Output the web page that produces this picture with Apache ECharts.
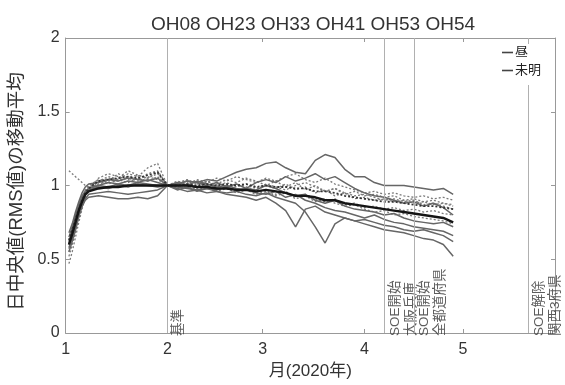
<!DOCTYPE html>
<html>
<head>
<meta charset="utf-8">
<script src="https://cdn.jsdelivr.net/npm/echarts@6/dist/echarts.min.js"></script>
<style>
  html, body { margin: 0; padding: 0; background: #fff; }
  #chart { width: 565px; height: 385px; }
</style>
</head>
<body>
<div id="chart"></div>
<script>
// Days counted from 1 January 2020 (day 0 = Jan 1)
const days = [1,2,3,4,5,6,7,10,13,16,19,22,25,28,31,34,37,40,43,46,49,52,55,58,61,64,67,70,73,76,79,82,85,88,91,94,97,100,103,106,109,112,115,118];

// Month ticks on the x axis
const monthTickDays = [0, 31, 60, 91, 121];
const monthLabels = ['1', '2', '3', '4', '5'];

// Daytime (昼) moving averages per station
const dayOH08 = [0.62,0.70,0.78,0.86,0.92,0.96,0.98,1.00,1.02,1.01,1.03,1.02,1.04,1.02,1.00,1.01,1.03,1.02,1.04,1.03,1.06,1.09,1.11,1.12,1.15,1.16,1.12,1.09,1.08,1.17,1.21,1.19,1.11,1.06,1.06,1.02,1.00,1.00,1.00,0.99,0.98,0.97,0.98,0.94];
const dayOH23 = [0.58,0.64,0.72,0.80,0.86,0.90,0.92,0.93,0.92,0.91,0.91,0.92,0.91,0.93,1.00,0.98,0.96,0.97,0.95,0.96,0.94,0.93,0.92,0.90,0.92,0.88,0.83,0.72,0.84,0.86,0.82,0.80,0.78,0.76,0.77,0.75,0.73,0.72,0.70,0.69,0.70,0.68,0.66,0.62];
const dayOH33 = [0.65,0.72,0.80,0.87,0.93,0.96,0.97,0.99,0.98,1.00,0.99,1.01,1.00,0.99,1.00,0.99,0.98,0.97,0.98,0.96,0.95,0.96,0.94,0.93,0.95,0.92,0.90,0.88,0.82,0.72,0.61,0.74,0.78,0.76,0.74,0.72,0.70,0.69,0.68,0.66,0.64,0.63,0.60,0.52];
const dayOH41 = [0.55,0.62,0.70,0.79,0.86,0.91,0.94,0.95,0.96,0.95,0.94,0.95,0.96,0.97,1.00,1.01,1.03,1.02,1.00,1.02,0.99,1.01,0.98,0.97,1.00,0.98,0.95,0.93,0.94,0.90,0.88,0.90,0.86,0.84,0.83,0.82,0.80,0.81,0.78,0.76,0.75,0.74,0.75,0.72];
const dayOH53 = [0.68,0.74,0.82,0.89,0.95,0.99,1.01,1.02,1.04,1.03,1.05,1.04,1.03,1.05,1.00,0.97,0.99,0.96,0.98,0.97,0.99,0.97,0.98,1.02,1.04,1.02,1.06,1.03,1.05,1.08,1.04,1.06,1.02,0.98,0.95,0.93,0.92,0.90,0.88,0.89,0.86,0.88,0.85,0.80];
const dayOH54 = [0.60,0.67,0.75,0.83,0.90,0.95,0.98,1.00,0.99,1.01,1.00,1.02,1.01,1.00,1.00,1.02,1.00,1.03,1.01,0.99,1.00,0.98,0.97,0.95,0.94,0.96,0.92,0.94,0.90,0.88,0.85,0.83,0.82,0.80,0.78,0.80,0.77,0.75,0.74,0.72,0.71,0.70,0.69,0.66];

// Pre-dawn (未明) moving averages per station
const nightOH08 = [1.10,1.08,1.06,1.04,1.02,1.00,0.99,1.03,1.06,1.04,1.08,1.06,1.12,1.15,1.00,1.03,1.01,1.04,1.02,1.05,1.03,1.06,1.04,1.02,1.05,1.03,1.06,1.08,1.04,1.02,1.05,1.01,0.99,0.97,0.95,0.96,0.94,0.95,0.93,0.92,0.93,0.91,0.92,0.90];
const nightOH23 = [0.47,0.55,0.65,0.75,0.84,0.92,0.97,1.02,1.05,1.03,1.06,1.04,1.08,1.10,1.00,0.98,1.02,0.99,1.03,1.00,0.98,1.01,0.99,0.97,1.00,0.98,1.01,0.97,0.99,0.95,0.97,0.93,0.95,0.91,0.92,0.90,0.91,0.89,0.90,0.88,0.89,0.87,0.88,0.86];
const nightOH33 = [0.52,0.60,0.69,0.78,0.87,0.93,0.97,1.05,1.08,1.06,1.04,1.07,1.05,1.08,1.00,1.01,0.99,1.02,0.98,1.01,1.04,1.02,1.05,1.03,1.00,1.03,0.99,1.02,0.97,1.00,0.96,0.98,0.94,0.96,0.93,0.94,0.92,0.93,0.90,0.91,0.89,0.90,0.88,0.87];
const nightOH41 = [0.55,0.63,0.72,0.81,0.88,0.94,0.98,1.01,1.03,1.08,1.05,1.03,1.06,1.04,1.00,0.99,1.01,0.98,1.00,0.97,0.99,0.96,0.98,0.95,0.97,0.94,0.96,0.92,0.94,0.91,0.89,0.91,0.87,0.88,0.85,0.86,0.84,0.85,0.83,0.84,0.82,0.83,0.81,0.80];
const nightOH53 = [0.60,0.68,0.77,0.85,0.92,0.97,1.00,1.04,1.02,1.05,1.10,1.07,1.05,1.09,1.00,1.02,1.04,1.01,1.03,1.00,1.02,0.99,1.01,0.98,1.01,0.99,0.97,1.00,1.02,0.99,0.96,0.98,0.95,0.93,0.94,0.92,0.90,0.91,0.89,0.90,0.87,0.88,0.86,0.84];
const nightOH54 = [0.57,0.65,0.74,0.82,0.89,0.95,0.99,1.03,1.01,1.04,1.02,1.05,1.03,1.06,1.00,0.98,1.00,0.97,0.99,0.96,0.98,0.95,0.97,0.94,0.96,0.93,0.95,0.91,0.93,0.89,0.91,0.88,0.86,0.87,0.84,0.82,0.83,0.80,0.81,0.79,0.78,0.77,0.76,0.74];

// Averages over the stations
const dayMean = [0.60,0.67,0.75,0.83,0.89,0.94,0.96,0.98,0.99,0.99,1.00,1.00,1.00,1.00,1.00,1.00,1.00,0.99,0.99,0.98,0.98,0.97,0.97,0.96,0.97,0.96,0.95,0.93,0.93,0.92,0.90,0.90,0.88,0.87,0.86,0.85,0.84,0.83,0.82,0.81,0.80,0.79,0.78,0.75];
const nightMean = [0.63,0.70,0.77,0.84,0.90,0.95,0.98,1.03,1.04,1.05,1.06,1.05,1.07,1.09,1.00,1.00,1.01,1.00,1.01,1.00,1.01,1.00,1.01,0.99,1.00,0.99,0.99,0.98,0.98,0.96,0.96,0.95,0.93,0.92,0.91,0.90,0.89,0.89,0.88,0.87,0.86,0.86,0.85,0.84];

// Event markers
const eventDays = [31, 97, 106, 141];
const eventLabels = ['基準', 'SOE開始\n大阪兵庫', 'SOE開始\n全都道府県', 'SOE解除\n関西3府県'];

const FONT = '"Liberation Sans", Arial, "Noto Sans CJK JP", sans-serif';

function pairs(vals) { return days.map((d, i) => [d, vals[i]]); }

const daySeries = [dayOH08, dayOH23, dayOH33, dayOH41, dayOH53, dayOH54];
const nightSeries = [nightOH08, nightOH23, nightOH33, nightOH41, nightOH53, nightOH54];

const series = [];
nightSeries.forEach(v => series.push({
  name: '未明', type: 'line', data: pairs(v), symbol: 'none', silent: true,
  itemStyle: { color: '#444' },
  lineStyle: { color: '#7a7a7a', width: 1.3, type: [2, 2] }, z: 2
}));
daySeries.forEach(v => series.push({
  name: '昼', type: 'line', data: pairs(v), symbol: 'none', silent: true,
  itemStyle: { color: '#444' },
  lineStyle: { color: '#666', width: 1.5 }, z: 3
}));
series.push({
  name: '未明平均', type: 'line', data: pairs(nightMean), symbol: 'none', silent: true,
  lineStyle: { color: '#333', width: 1.8, type: [2, 2] }, z: 4
});
series.push({
  name: '昼平均', type: 'line', data: pairs(dayMean), symbol: 'none', silent: true,
  lineStyle: { color: '#151515', width: 2.4 }, z: 5
});
// Event lines and their rotated captions
series.push({
  name: 'events', type: 'scatter', silent: true, z: 1,
  data: eventDays.map((d, i) => ({ value: [d, 0], label: { formatter: eventLabels[i] } })),
  symbolSize: 0,
  label: {
    show: true, position: 'inside', rotate: 90, align: 'left', verticalAlign: 'top',
    offset: [-3, 3], fontSize: 13.5, lineHeight: 16, color: '#333', fontFamily: FONT
  },
  markLine: {
    silent: true, symbol: 'none', label: { show: false },
    lineStyle: { color: '#b0b0b0', width: 1, type: 'solid' },
    data: eventDays.map(d => ({ xAxis: d }))
  }
});

const chart = echarts.init(document.getElementById('chart'), null, { renderer: 'canvas' });
chart.setOption({
  animation: false,
  backgroundColor: '#fff',
  textStyle: { fontFamily: FONT },
  title: {
    text: 'OH08 OH23 OH33 OH41 OH53 OH54',
    left: 308, top: 10, textAlign: 'center',
    textStyle: { fontSize: 19, fontWeight: 'normal', color: '#333', fontFamily: FONT }
  },
  legend: {
    data: ['昼', '未明'], orient: 'vertical', left: 500, top: 44,
    icon: 'rect', itemWidth: 11, itemHeight: 1.6, itemGap: 5, z: 10,
    backgroundColor: '#fff', padding: [2, 4, 8, 2],
    textStyle: { fontSize: 13, color: '#222', fontFamily: FONT, padding: [0, 0, 0, -3] }
  },
  grid: { left: 62, right: 10, top: 38, bottom: 47 },
  xAxis: [{
    type: 'value', min: 0, max: 149,
    name: '月(2020年)', nameLocation: 'middle', nameGap: 30,
    nameTextStyle: { fontSize: 17, color: '#333', fontFamily: FONT },
    axisLine: { show: true, lineStyle: { color: '#999' } },
    axisTick: { show: true, inside: true, length: 4, customValues: monthTickDays, lineStyle: { color: '#999' } },
    axisLabel: {
      customValues: monthTickDays, fontSize: 16, color: '#333', margin: 9,
      formatter: v => monthLabels[monthTickDays.indexOf(v)]
    },
    splitLine: { show: false }
  }, {
    type: 'value', min: 0, max: 149, position: 'top',
    axisLine: { show: true, onZero: false, lineStyle: { color: '#999' } },
    axisTick: { show: true, inside: true, length: 4, customValues: monthTickDays, lineStyle: { color: '#999' } },
    axisLabel: { show: false }, splitLine: { show: false }
  }],
  yAxis: [{
    type: 'value', min: 0, max: 2, interval: 0.5,
    name: '日中央値(RMS値)の移動平均', nameLocation: 'middle', nameGap: 38,
    nameTextStyle: { fontSize: 18.5, color: '#333', fontFamily: FONT, padding: [0, 0, 0, -12] },
    axisLine: { show: true, lineStyle: { color: '#999' } },
    axisTick: { show: true, inside: true, length: 4, lineStyle: { color: '#999' } },
    axisLabel: { fontSize: 16, color: '#333', margin: 6 },
    splitLine: { show: false }
  }, {
    type: 'value', min: 0, max: 2, interval: 0.5, position: 'right',
    axisLine: { show: true, onZero: false, lineStyle: { color: '#999' } },
    axisTick: { show: true, inside: true, length: 4, lineStyle: { color: '#999' } },
    axisLabel: { show: false }, splitLine: { show: false }
  }],
  series: series
});
</script>
</body>
</html>
